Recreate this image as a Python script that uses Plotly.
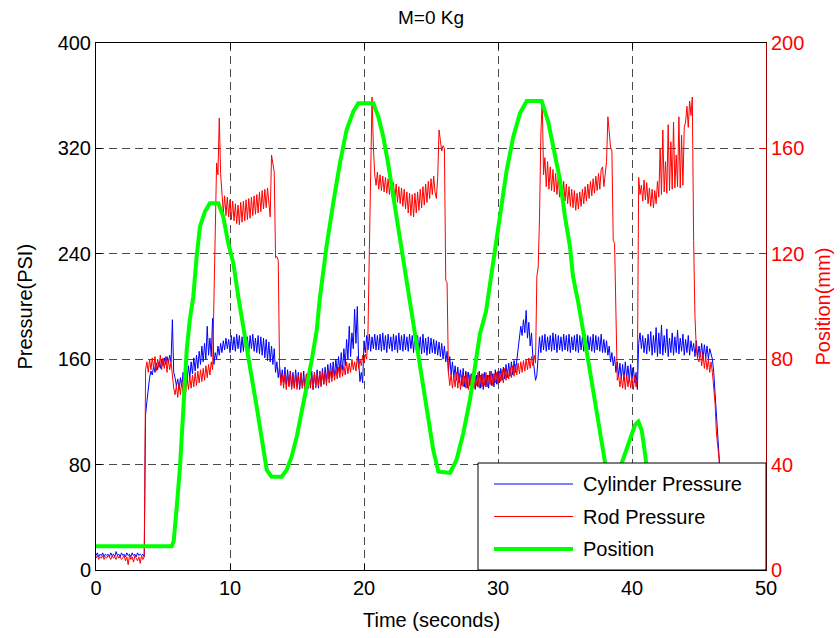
import numpy as np
import plotly.graph_objects as go

# Pressure records, sampled every 0.1 s from 0.0 s to 47.0 s
time_s = np.round(np.arange(0, 471) * 0.1, 1)

cylinder_psi = [
    11, 13, 10, 12, 11, 13, 10, 12, 11, 12,
    10, 13, 11, 12, 10, 14, 11, 12, 10, 13,
    11, 12, 10, 13, 11, 12, 10, 13, 11, 12,
    10, 13, 11, 12, 11, 12, 10, 118, 128, 140,
    146, 151, 148, 155, 150, 157, 152, 158, 153, 160,
    155, 161, 156, 162, 157, 163, 158, 190, 150, 146,
    140, 145, 137, 146, 139, 150, 141, 152, 144, 155,
    146, 158, 149, 161, 151, 163, 153, 166, 156, 170,
    158, 172, 160, 185, 163, 176, 162, 191, 156, 165,
    160, 170, 163, 172, 165, 174, 167, 176, 168, 175,
    165, 178, 167, 177, 166, 179, 168, 178, 165, 177,
    166, 179, 167, 177, 165, 178, 168, 179, 166, 176,
    165, 178, 164, 177, 163, 176, 161, 175, 159, 173,
    158, 170, 156, 168, 150, 158, 146, 155, 143, 152,
    142, 154, 141, 152, 140, 151, 139, 150, 138, 152,
    139, 150, 137, 149, 138, 151, 136, 148, 137, 150,
    138, 151, 137, 150, 139, 152, 138, 151, 140, 153,
    141, 154, 143, 156, 145, 157, 146, 158, 147, 160,
    149, 162, 150, 165, 152, 168, 155, 175, 160, 185,
    162, 180, 168, 198, 172, 200, 158, 143, 150, 142,
    174, 165, 178, 167, 179, 166, 177, 168, 179, 167,
    178, 167, 179, 166, 180, 167, 178, 165, 179, 168,
    177, 166, 179, 167, 178, 165, 180, 167, 178, 166,
    179, 167, 177, 166, 179, 168, 178, 165, 179, 167,
    178, 166, 177, 164, 179, 165, 176, 163, 177, 164,
    176, 165, 175, 164, 174, 163, 173, 162, 172, 160,
    170, 158, 166, 150, 162, 148, 158, 146, 155, 144,
    154, 142, 152, 140, 153, 139, 151, 138, 150, 140,
    149, 138, 150, 137, 148, 139, 151, 138, 149, 137,
    150, 139, 148, 138, 151, 140, 149, 139, 152, 141,
    151, 142, 153, 144, 154, 145, 156, 146, 157, 147,
    158, 148, 159, 150, 160, 165, 175, 185, 178, 190,
    180, 197, 176, 188, 170, 180, 162, 150, 144, 148,
    168, 177, 165, 178, 167, 179, 166, 177, 167, 178,
    166, 180, 167, 179, 165, 178, 167, 177, 166, 179,
    167, 178, 166, 179, 165, 177, 167, 178, 166, 179,
    165, 178, 167, 177, 166, 179, 165, 178, 167, 177,
    166, 179, 165, 178, 167, 177, 166, 179, 165, 175,
    165, 174, 163, 170, 158, 165, 155, 162, 150, 158,
    147, 157, 145, 156, 144, 158, 146, 155, 143, 156,
    145, 154, 142, 150, 137, 172, 180, 168, 178, 165,
    176, 164, 179, 166, 181, 163, 178, 165, 184, 162,
    180, 164, 186, 163, 178, 165, 183, 162, 176, 165,
    180, 163, 177, 165, 182, 164, 176, 166, 179, 163,
    175, 165, 178, 163, 174, 166, 172, 162, 174, 161,
    170, 162, 172, 160, 171, 161, 170, 160, 168, 163,
    160, 150, 135, 115, 100, 88, 70, 40, 15, 12,
    11,
]

rod_psi = [
    9, 11, 8, 10, 9, 11, 8, 10, 9, 11,
    10, 8, 11, 9, 10, 8, 11, 9, 10, 8,
    9, 11, 7, 10, 4, 11, 8, 10, 6, 11,
    9, 7, 10, 5, 11, 8, 10, 152, 158, 150,
    160, 152, 161, 153, 162, 151, 160, 154, 163, 152,
    161, 153, 162, 150, 160, 152, 158, 145, 138, 133,
    140, 131, 142, 133, 144, 134, 145, 135, 146, 137,
    147, 138, 148, 139, 150, 140, 151, 142, 152, 143,
    153, 144, 155, 146, 156, 148, 158, 152, 205, 253,
    309, 300, 343, 301, 285, 271, 284, 269, 283, 268,
    281, 266, 280, 265, 278, 263, 277, 262, 279, 264,
    280, 265, 281, 266, 282, 267, 283, 269, 284, 270,
    285, 271, 287, 272, 288, 274, 289, 275, 290, 276,
    268, 315, 308, 302, 237, 238, 235, 152, 140, 148,
    138, 149, 137, 148, 139, 150, 137, 147, 138, 149,
    137, 148, 139, 150, 138, 147, 136, 149, 138, 150,
    139, 148, 137, 150, 138, 149, 140, 151, 139, 150,
    141, 150, 140, 152, 142, 151, 143, 153, 144, 152,
    145, 154, 146, 156, 147, 155, 148, 158, 149, 157,
    150, 160, 152, 158, 151, 162, 153, 160, 155, 163,
    157, 164, 160, 182, 243, 296, 359, 321, 300, 292,
    302, 289, 300, 288, 299, 287, 298, 286, 297, 285,
    296, 283, 294, 281, 293, 279, 291, 278, 290, 276,
    289, 274, 287, 271, 286, 269, 285, 268, 286, 271,
    287, 273, 289, 275, 291, 277, 293, 279, 295, 282,
    297, 285, 299, 287, 282, 298, 334, 326, 318, 322,
    320, 220, 218, 150, 140, 149, 138, 148, 139, 150,
    138, 149, 137, 148, 139, 147, 138, 150, 137, 148,
    139, 149, 138, 147, 140, 150, 138, 148, 139, 149,
    140, 150, 139, 148, 141, 151, 140, 149, 142, 150,
    141, 151, 143, 152, 142, 153, 144, 152, 145, 154,
    146, 155, 147, 156, 148, 157, 149, 158, 150, 159,
    151, 160, 152, 161, 153, 162, 155, 163, 157, 223,
    230, 268, 331, 357, 300, 313, 291, 310, 289, 306,
    288, 304, 287, 301, 285, 299, 283, 297, 281, 295,
    280, 293, 278, 291, 276, 289, 275, 288, 273, 286,
    274, 287, 276, 289, 278, 291, 280, 293, 282, 295,
    284, 297, 286, 299, 288, 301, 289, 304, 306, 291,
    300, 310, 344, 330, 321, 318, 250, 248, 195, 144,
    148, 139, 147, 138, 149, 137, 148, 139, 147, 138,
    146, 137, 148, 139, 145, 298, 285, 292, 280, 296,
    281, 294, 278, 290, 276, 289, 275, 288, 278, 295,
    283, 320, 285, 334, 287, 310, 286, 338, 288, 325,
    289, 340, 290, 315, 291, 344, 290, 330, 292, 336,
    340, 352, 336, 356, 345, 359, 250, 192, 168, 160,
    158, 166, 155, 164, 153, 162, 152, 160, 150, 158,
    150, 139, 126, 104, 95, 84, 55, 25, 12, 10,
    10,
]

# Actuator position (mm) at the breakpoints of the recorded stroke
position_t = [
    0, 5.65, 5.8, 5.9, 6.07, 6.27, 6.39, 6.57, 6.77, 7.0, 7.26, 7.51, 7.76,
    8.13, 8.5, 9.13, 9.5, 9.87, 10.25, 10.62, 11.0, 11.49, 11.99, 12.36,
    12.74, 13.1, 13.86, 14.23, 14.6, 14.98, 15.35, 15.72, 16.1, 16.47, 16.7,
    17.2, 17.7, 18.2, 18.7, 19.2, 19.57, 20.7, 21.07, 21.44, 21.8, 22.19,
    22.56, 22.93, 23.3, 23.68, 23.93, 24.43, 24.8, 25.17, 25.55, 26.42, 26.9,
    27.41, 27.9, 28.28, 28.66, 29.1, 29.65, 30.15, 30.65, 31.14, 31.64, 32.14,
    33.26, 33.75, 34.13, 34.63, 35.0, 35.37, 35.6, 36.0, 36.6, 37.1, 37.6,
    38.0, 38.5, 38.9, 39.23, 39.73, 40.22, 40.47, 40.72, 40.97, 41.3, 41.8,
    42.2, 47.0,
]
position_mm = [
    9, 9, 11, 16, 26.6, 39.2, 49.3, 64.5, 83.5, 95, 103.7, 118.9, 130.3,
    136, 139.2, 139.2, 134, 124, 116.4, 103.7, 91, 77, 62, 49.3,
    38, 35.4, 35.4, 38, 43, 50.6, 59.5, 69.6, 79.7, 91, 103,
    122.7, 139.2, 154.3, 167, 174, 177.1, 177.1, 172, 164.4, 154.3, 141.7,
    131.6, 118.9, 106.3, 93.6, 85, 70.9, 58.2, 45.5, 37.3, 36.9, 41.7,
    51.9, 64.5, 77.2, 89.8, 98, 116.4, 135.4, 151.8, 164.4, 173.3, 178,
    178, 170, 161, 148, 134, 122.7, 111.3, 101.2, 83.5, 68.3, 53.1,
    40.5, 30, 32, 40.5, 48.1, 55, 56.3, 53.1, 44.3, 30, 15,
    9, 9,
]

x_ticks = [0, 10, 20, 30, 40, 50]
psi_ticks = [0, 80, 160, 240, 320, 400]
mm_ticks = [0, 40, 80, 120, 160, 200]

series_names = ["Cylinder Pressure", "Rod Pressure", "Position"]
series_colors = ["#0000ff", "#ff0000", "#00ff00"]
series_widths = [1, 1, 4]

FONT = "Liberation Sans, Arial, Helvetica, sans-serif"
W, H = 840, 638
ML, MR, MT, MB = 96, 74, 43, 68
PW, PH = W - ML - MR, H - MT - MB

fig = go.Figure()
fig.add_trace(go.Scatter(x=time_s, y=cylinder_psi, name=series_names[0], mode="lines",
                         line=dict(color=series_colors[0], width=series_widths[0]),
                         showlegend=False))
fig.add_trace(go.Scatter(x=time_s, y=rod_psi, name=series_names[1], mode="lines",
                         line=dict(color=series_colors[1], width=series_widths[1]),
                         showlegend=False))
fig.add_trace(go.Scatter(x=position_t, y=position_mm, name=series_names[2], mode="lines",
                         line=dict(color=series_colors[2], width=series_widths[2]),
                         yaxis="y2", showlegend=False))

grid_style = dict(showgrid=True, gridcolor="#4a4a4a", gridwidth=1, griddash="8px,5px")

fig.update_layout(
    width=W, height=H,
    margin=dict(l=ML, r=MR, t=MT, b=MB, pad=0),
    paper_bgcolor="white", plot_bgcolor="white",
    font=dict(family=FONT, size=20, color="black"),
    title=dict(text="M=0 Kg", x=0.5, xref="paper", xanchor="center",
               y=1 - 17 / H, yref="container", yanchor="middle",
               font=dict(family=FONT, size=19, color="black")),
    xaxis=dict(range=[0, 50], tickvals=x_ticks, ticks="inside", ticklen=6,
               tickcolor="black", showline=True, linecolor="black", linewidth=1,
               mirror="ticks", zeroline=False, tickfont=dict(size=20, color="black"),
               **grid_style),
    yaxis=dict(range=[0, 400], tickvals=psi_ticks, ticks="inside", ticklen=6,
               tickcolor="black", showline=True, linecolor="black", linewidth=1,
               zeroline=False, tickfont=dict(size=20, color="black"), **grid_style),
    yaxis2=dict(range=[0, 200], tickvals=mm_ticks, overlaying="y", side="right",
                ticks="inside", ticklen=6, tickcolor="#e00000", showline=True,
                linecolor="#a00000", linewidth=1, showgrid=False, zeroline=False,
                tickfont=dict(size=20, color="#ff0000")),
)

# Axis titles
fig.add_annotation(text="Time (seconds)", xref="paper", yref="paper", x=0.5, y=0,
                   yshift=-50, showarrow=False, yanchor="middle",
                   font=dict(size=20, color="black"))
fig.add_annotation(text="Pressure(PSI)", xref="paper", yref="paper", x=0, y=0.5,
                   xshift=-72, showarrow=False, textangle=-90, xanchor="center",
                   yanchor="middle", font=dict(size=20, color="black"))
fig.add_annotation(text="Position(mm)", xref="paper", yref="paper", x=1, y=0.5,
                   xshift=56, showarrow=False, textangle=-90, xanchor="center",
                   yanchor="middle", font=dict(size=20, color="#ff0000"))

# Legend box in the lower right corner of the axes
box_x0 = (478 - ML) / PW
box_top = (570 - 463) / PH
fig.add_shape(type="rect", xref="paper", yref="paper", x0=box_x0, x1=1, y0=0, y1=box_top,
              fillcolor="white", line=dict(color="black", width=1), layer="above")
key_x0 = (494 - ML) / PW
key_x1 = (573 - ML) / PW
text_x = (581 - ML) / PW
for i, (name, color, width) in enumerate(zip(series_names, series_colors, series_widths)):
    row_y = (570 - (484 + 32.5 * i)) / PH
    fig.add_shape(type="line", xref="paper", yref="paper", x0=key_x0, x1=key_x1,
                  y0=row_y, y1=row_y, line=dict(color=color, width=width), layer="above")
    fig.add_annotation(text=name, xref="paper", yref="paper", x=text_x, y=row_y,
                       xanchor="left", yanchor="middle", showarrow=False,
                       font=dict(size=20, color="black"))

fig.write_html("out.html")
